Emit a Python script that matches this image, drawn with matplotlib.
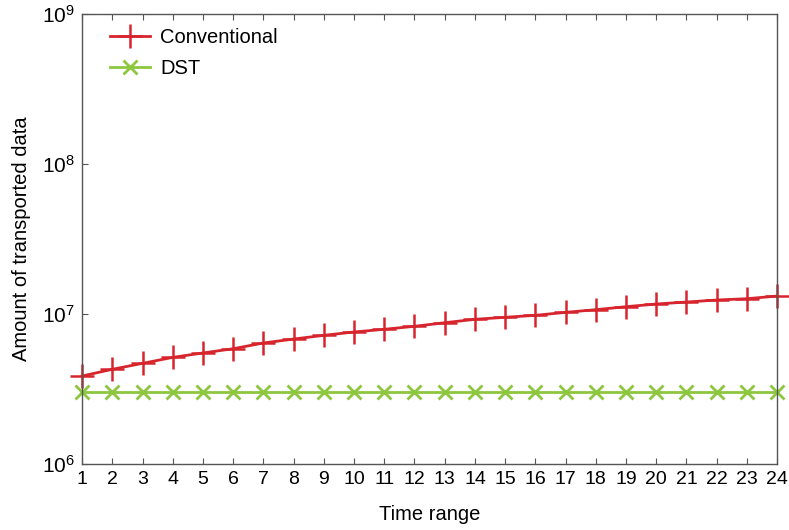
import numpy as np
import matplotlib.pyplot as plt

time_range = list(range(1, 25))
conventional = [3.86e6, 4.28e6, 4.69e6, 5.14e6, 5.50e6, 5.87e6, 6.41e6, 6.81e6,
                7.21e6, 7.59e6, 7.91e6, 8.28e6, 8.75e6, 9.22e6, 9.51e6, 9.80e6,
                1.026e7, 1.069e7, 1.119e7, 1.166e7, 1.202e7, 1.24e7, 1.265e7, 1.318e7]
dst = [3.0e6] * 24
y_ticks = [1e6, 1e7, 1e8, 1e9]
y_tick_labels = ['10$^{6}$', '10$^{7}$', '10$^{8}$', '10$^{9}$']

plt.rcParams['font.family'] = ['Liberation Sans', 'DejaVu Sans']
plt.rcParams['mathtext.fontset'] = 'custom'
plt.rcParams['mathtext.rm'] = 'Liberation Sans'
plt.rcParams['mathtext.it'] = 'Liberation Sans'

fig = plt.figure(figsize=(7.89, 5.30), dpi=100)
ax = fig.add_axes([0.104, 0.1245, 0.881, 0.849])

ax.plot(time_range, conventional, color='#d7252e', marker='+', markersize=17,
        markeredgewidth=1.8, linewidth=2.0, label='Conventional', clip_on=False)
ax.plot(time_range, dst, color='#8dc63f', marker='x', markersize=10,
        markeredgewidth=2.0, linewidth=2.0, label='DST', clip_on=False)

ax.set_yscale('log')
ax.set_ylim(1e6, 1e9)
ax.set_xlim(1, 24)
ax.set_xticks(time_range)
ax.set_xticklabels([str(t) for t in time_range], fontsize=14)
ax.set_yticks(y_ticks)
ax.set_yticklabels(y_tick_labels, fontsize=15)
ax.minorticks_off()
ax.tick_params(direction='in', length=4, width=0.8, color='#555555',
               top=True, right=False, pad=5)
for sp in ax.spines.values():
    sp.set_color('#555555')
    sp.set_linewidth(1.0)

ax.set_xlabel('Time range', fontsize=14.5, labelpad=12)
ax.set_ylabel('Amount of transported data', fontsize=14.5, labelpad=8)

leg = ax.legend(loc='upper left', frameon=False, fontsize=14.5, handlelength=2.0,
                handletextpad=0.5, borderaxespad=0.3, bbox_to_anchor=(0.02, 1.0),
                labelspacing=0.6)

fig.savefig('out.png', dpi=100)
